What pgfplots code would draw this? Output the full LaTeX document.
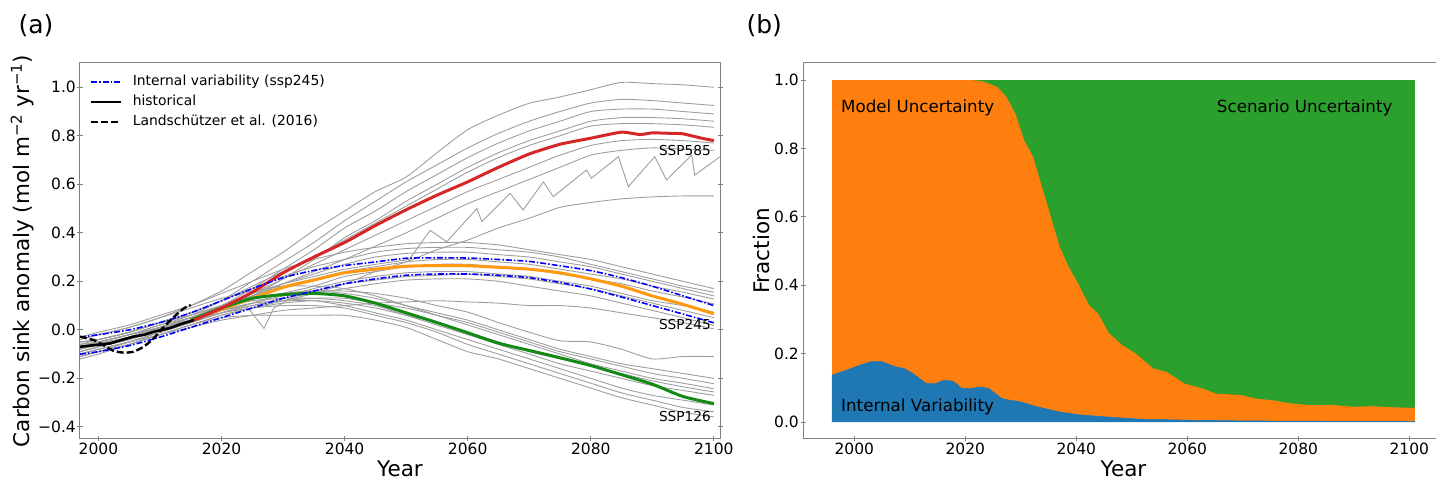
\documentclass[border=0pt]{standalone}
\usepackage{pgfplots}
\pgfplotsset{compat=1.18}
\usepackage{pgfplotstable}
\usepackage{fontspec}
\setmainfont{DejaVu Sans}

\definecolor{spine}{RGB}{128,128,128}
\definecolor{tabblue}{HTML}{1F77B4}
\definecolor{taborange}{HTML}{FF7F0E}
\definecolor{tabgreen}{HTML}{2CA02C}
\definecolor{sspred}{HTML}{D62728}
\definecolor{ssporange}{HTML}{FF9A10}
\definecolor{sspgreen}{HTML}{138A13}

% model runs, ssp585
\pgfplotstableread{
year a b c d e f g h
1997 -0.04 -0.06 -0.08 -0.10 -0.05 -0.09 -0.07 -0.11
2000 -0.02 -0.05 -0.06 -0.08 -0.04 -0.07 -0.06 -0.09
2005 0.01 -0.02 -0.03 -0.05 -0.01 -0.04 -0.03 -0.06
2010 0.05 0.02 0.01 -0.01 0.03 0.00 0.01 -0.02
2015 0.10 0.06 0.05 0.03 0.07 0.04 0.05 0.02
2020 0.16 0.12 0.10 0.08 0.12 0.09 0.09 0.06
2025 0.24 0.20 0.17 0.14 0.18 0.15 0.14 0.09
2030 0.32 0.28 0.25 0.21 0.24 0.21 0.19 0.12
2035 0.41 0.36 0.33 0.29 0.30 0.27 0.24 0.15
2040 0.49 0.45 0.42 0.38 0.37 0.33 0.29 0.19
2045 0.57 0.53 0.49 0.45 0.44 0.39 0.345 0.24
2050 0.63 0.61 0.57 0.53 0.51 0.45 0.40 0.28
2055 0.73 0.68 0.64 0.60 0.58 0.51 0.46 0.33
2060 0.825 0.75 0.71 0.67 0.65 0.57 0.52 0.37
2065 0.885 0.81 0.77 0.73 0.71 0.62 0.57 0.42
2070 0.934 0.86 0.82 0.78 0.76 0.67 0.62 0.46
2075 0.96 0.90 0.86 0.82 0.80 0.72 0.67 0.505
2080 0.99 0.935 0.90 0.86 0.84 0.76 0.72 0.525
2085 1.02 0.95 0.91 0.875 0.85 0.78 0.74 0.54
2090 1.015 0.945 0.91 0.875 0.85 0.785 0.75 0.548
2095 1.01 0.935 0.90 0.87 0.845 0.78 0.745 0.552
2100 1.00 0.925 0.89 0.86 0.835 0.77 0.74 0.552
}\runshigh

% model runs, ssp245
\pgfplotstableread{
year p q r s t u v w
1997 -0.03 -0.06 -0.09 -0.05 -0.11 -0.08 -0.07 -0.10
2000 -0.01 -0.04 -0.07 -0.04 -0.09 -0.06 -0.05 -0.08
2005 0.02 -0.01 -0.03 -0.01 -0.05 -0.03 -0.02 -0.05
2010 0.06 0.03 0.01 0.03 -0.01 0.01 0.01 -0.02
2015 0.10 0.07 0.05 0.06 0.03 0.04 0.04 0.01
2020 0.15 0.12 0.10 0.10 0.07 0.08 0.07 0.04
2025 0.20 0.17 0.15 0.14 0.11 0.11 0.10 0.06
2030 0.25 0.22 0.19 0.18 0.15 0.14 0.13 0.08
2035 0.29 0.26 0.23 0.21 0.18 0.17 0.15 0.09
2040 0.32 0.29 0.27 0.24 0.22 0.20 0.17 0.10
2045 0.34 0.32 0.30 0.26 0.24 0.22 0.19 0.11
2050 0.355 0.335 0.315 0.28 0.26 0.235 0.205 0.115
2055 0.36 0.34 0.32 0.29 0.27 0.24 0.21 0.12
2060 0.36 0.34 0.32 0.29 0.27 0.24 0.21 0.115
2065 0.35 0.33 0.31 0.28 0.26 0.23 0.20 0.11
2070 0.33 0.32 0.30 0.27 0.25 0.22 0.18 0.10
2075 0.31 0.30 0.28 0.25 0.23 0.20 0.16 0.10
2080 0.29 0.27 0.26 0.23 0.21 0.18 0.14 0.09
2085 0.26 0.24 0.23 0.21 0.19 0.15 0.11 0.07
2090 0.23 0.21 0.20 0.18 0.16 0.12 0.08 0.05
2095 0.20 0.18 0.17 0.155 0.135 0.10 0.05 0.03
2100 0.17 0.155 0.14 0.127 0.107 0.073 0.018 0.004
}\runsmid

% model runs, ssp126
\pgfplotstableread{
year k l m n o r s t u
1997 -0.05 -0.08 -0.10 -0.04 -0.12 -0.07 -0.09 -0.06 -0.11
2000 -0.04 -0.06 -0.08 -0.02 -0.10 -0.05 -0.07 -0.05 -0.09
2005 -0.01 -0.03 -0.05 0.01 -0.06 -0.02 -0.04 -0.02 -0.06
2010 0.03 0.01 -0.01 0.05 -0.02 0.02 0.00 0.01 -0.02
2015 0.06 0.05 0.03 0.09 0.02 0.05 0.04 0.04 0.02
2020 0.10 0.09 0.07 0.13 0.06 0.09 0.08 0.07 0.05
2025 0.13 0.13 0.10 0.16 0.09 0.12 0.11 0.09 0.06
2030 0.15 0.15 0.12 0.18 0.11 0.13 0.12 0.10 0.06
2035 0.16 0.16 0.13 0.18 0.12 0.13 0.12 0.10 0.06
2040 0.16 0.15 0.13 0.17 0.11 0.12 0.10 0.09 0.06
2045 0.15 0.13 0.11 0.14 0.09 0.10 0.07 0.06 0.04
2050 0.13 0.10 0.09 0.10 0.06 0.06 0.04 0.03 0.01
2055 0.10 0.07 0.06 0.06 0.03 0.02 0.00 -0.01 -0.04
2060 0.073 0.04 0.03 0.02 -0.01 -0.02 -0.04 -0.06 -0.09
2065 0.03 0.00 -0.01 -0.02 -0.05 -0.06 -0.08 -0.10 -0.12
2070 -0.01 -0.04 -0.05 -0.06 -0.09 -0.10 -0.12 -0.14 -0.16
2075 -0.045 -0.08 -0.09 -0.10 -0.12 -0.14 -0.16 -0.18 -0.20
2080 -0.05 -0.11 -0.12 -0.14 -0.15 -0.17 -0.20 -0.22 -0.24
2085 -0.08 -0.14 -0.15 -0.17 -0.18 -0.20 -0.24 -0.26 -0.28
2090 -0.12 -0.16 -0.18 -0.20 -0.21 -0.23 -0.27 -0.29 -0.31
2095 -0.11 -0.18 -0.20 -0.22 -0.235 -0.25 -0.29 -0.32 -0.34
2100 -0.11 -0.20 -0.222 -0.243 -0.256 -0.27 -0.31 -0.338 -0.359
}\runslow

% scenario means and internal variability envelope
\pgfplotstableread{
year hi lo mid
1997 -0.03 -0.10 nan
2000 -0.02 -0.09 nan
2005 0.00 -0.065 nan
2010 0.03 -0.03 nan
2015 0.07 0.01 0.04
2020 0.12 0.05 0.085
2025 0.17 0.09 0.13
2030 0.215 0.13 0.175
2035 0.245 0.16 0.205
2040 0.265 0.19 0.235
2045 0.28 0.21 0.25
2050 0.295 0.225 0.262
2055 0.297 0.23 0.265
2060 0.296 0.23 0.264
2065 0.29 0.225 0.258
2070 0.282 0.215 0.25
2075 0.264 0.195 0.235
2080 0.244 0.168 0.21
2085 0.215 0.135 0.18
2090 0.18 0.10 0.14
2095 0.14 0.065 0.105
2100 0.10 0.029 0.066
}\ivband

\pgfplotsset{
  panel/.style={
    scale only axis, height=376pt,
    axis line style={spine, line width=1pt},
    tick style={spine, line width=0.8pt},
    major tick length=5pt, tick align=center,
    xtick pos=bottom,
    tick label style={font=\fontsize{15.5}{18}\selectfont, inner sep=1.5pt},
    label style={font=\fontsize{21.5}{25}\selectfont},
    xlabel style={at={(axis description cs:0.5,-0.1)}, anchor=base},
  },
  modelline/.style={draw=black!38, line width=0.9pt, forget plot},
}

\begin{document}
\begin{tikzpicture}
\path[use as bounding box] (0pt,0pt) rectangle (1436pt,479pt);

\begin{axis}[panel,
    at={(80pt,40pt)}, anchor=south west, width=640pt,
    xmin=1997, xmax=2101, ymin=-0.45, ymax=1.1,
    xtick={2000,2020,2040,2060,2080,2100},
    xticklabels={2000,2020,2040,2060,2080,2100},
    ytick={-0.4,-0.2,0,0.2,0.4,0.6,0.8,1.0},
    yticklabels={−0.4,−0.2,0.0,0.2,0.4,0.6,0.8,1.0},
    ytick pos=both,
    xlabel={Year},
    ylabel={Carbon sink anomaly (mol m\textsuperscript{−2} yr\textsuperscript{−1})},
    ylabel style={at={(axis description cs:-0.0792,0.5)}, anchor=base, rotate=0},
    legend cell align=left,
    legend style={draw=none, fill=none, at={(axis description cs:0.0156,0.9686)},
      anchor=north west, inner sep=0pt, row sep=6pt, column sep=10pt,
      font=\fontsize{13.9}{16}\selectfont,
      nodes={inner sep=0pt, text height=10.5pt, text depth=3.5pt}},
    legend image code/.code={\draw[#1] (0pt,0pt) -- (30pt,0pt);},
  ]
  \addlegendimage{blue, line width=1.6pt, dash pattern=on 6pt off 2pt on 1.5pt off 2pt}
  \addlegendentry{Internal variability (ssp245)}
  \addlegendimage{black, line width=2.6pt}
  \addlegendentry{historical}
  \addlegendimage{black, line width=2.4pt, dash pattern=on 7pt off 3pt}
  \addlegendentry{Landschützer et al. (2016)}

  \pgfplotsinvokeforeach{a,b,c,d,e,f,g,h}{
    \addplot[modelline, smooth, tension=0.4] table[x=year, y=#1] {\runshigh};}
  \pgfplotsinvokeforeach{p,q,r,s,t,u,v,w}{
    \addplot[modelline, smooth, tension=0.4] table[x=year, y=#1] {\runsmid};}
  \pgfplotsinvokeforeach{k,l,m,n,o,r,s,t,u}{
    \addplot[modelline, smooth, tension=0.4] table[x=year, y=#1] {\runslow};}
  % run with strong oscillations
  \addplot[modelline] coordinates {
    (1997,-0.08) (2000,-0.06) (2005,-0.03) (2010,0.01) (2015,0.05) (2020,0.09)
    (2025,0.14) (2030,0.19) (2035,0.22) (2040,0.25) (2045,0.27) (2050.5,0.29)
    (2053.9,0.41) (2056.6,0.363) (2061.5,0.50) (2062.3,0.446) (2066.9,0.563)
    (2069,0.494) (2072.3,0.61) (2073.9,0.549) (2079.3,0.659) (2080.1,0.625)
    (2084.5,0.714) (2086.1,0.59) (2090.4,0.714) (2092.3,0.618) (2096.4,0.72)
    (2096.9,0.638) (2101,0.714)};
  % run with a dip
  \addplot[modelline] coordinates {
    (1997,-0.07) (2005,-0.03) (2015,0.04) (2020,0.08) (2024,0.10) (2026.9,0.006)
    (2028.5,0.09) (2032,0.14) (2040,0.19) (2050,0.22) (2060,0.23) (2070,0.21)
    (2080,0.17) (2090,0.11) (2100,0.05)};

  % scenario means
  \addplot[ssporange, line width=3pt, smooth, tension=0.4, forget plot] table[x=year, y=mid] {\ivband};
  \addplot[sspgreen, line width=3pt, smooth, tension=0.4, forget plot] coordinates {
    (2015,0.04) (2020,0.09) (2025,0.13) (2030,0.145) (2035,0.15) (2040,0.14)
    (2045,0.11) (2050,0.07) (2055,0.03) (2060,-0.012) (2065,-0.055) (2070,-0.085)
    (2075,-0.115) (2080,-0.147) (2085,-0.185) (2090,-0.224) (2095,-0.275) (2100,-0.304)};
  \addplot[sspred, line width=3pt, smooth, tension=0.3, forget plot] coordinates {
    (2015.5,0.04) (2020,0.09) (2025,0.155) (2030,0.235) (2035,0.30) (2040,0.36)
    (2045,0.43) (2050,0.495) (2055,0.555) (2060,0.61) (2065,0.67) (2070,0.725)
    (2075,0.765) (2080,0.79) (2085,0.815) (2088,0.805) (2090,0.812) (2093,0.81)
    (2095,0.808) (2098,0.79) (2100,0.78)};

  % internal variability envelope
  \addplot[blue, line width=1.6pt, smooth, tension=0.4, dash pattern=on 6pt off 2pt on 1.5pt off 2pt, forget plot]
    table[x=year, y=hi] {\ivband};
  \addplot[blue, line width=1.6pt, smooth, tension=0.4, dash pattern=on 6pt off 2pt on 1.5pt off 2pt, forget plot]
    table[x=year, y=lo] {\ivband};

  % historical and observations
  \addplot[black, line width=2.6pt, forget plot] coordinates {
    (1997,-0.07) (1999,-0.064) (2001.9,-0.056) (2004,-0.04) (2005.7,-0.028)
    (2007.5,-0.02) (2009,-0.008) (2011.7,0.008) (2013.5,0.025) (2015.5,0.04)};
  \addplot[black, line width=2.4pt, smooth, tension=0.4, dash pattern=on 7pt off 3pt, forget plot] coordinates {
    (1997,-0.028) (1999.2,-0.042) (2000.8,-0.063) (2002.4,-0.086) (2004.1,-0.094)
    (2005.7,-0.09) (2007.3,-0.07) (2009,-0.035) (2010.6,0.012) (2012.3,0.054)
    (2013.9,0.089) (2015,0.102)};

  \node[font=\fontsize{13.7}{16}\selectfont] at (axis cs:2095.3,0.741) {SSP585};
  \node[font=\fontsize{13.7}{16}\selectfont] at (axis cs:2095.3,0.023) {SSP245};
  \node[font=\fontsize{13.7}{16}\selectfont] at (axis cs:2095.3,-0.357) {SSP126};
\end{axis}

\begin{axis}[panel,
    at={(803pt,40pt)}, anchor=south west, width=641pt,
    xmin=1990.75, xmax=2106.25, ymin=-0.05, ymax=1.05,
    xtick={2000,2020,2040,2060,2080,2100},
    xticklabels={2000,2020,2040,2060,2080,2100},
    ytick={0,0.2,0.4,0.6,0.8,1.0},
    yticklabels={0.0,0.2,0.4,0.6,0.8,1.0},
    ytick pos=left,
    xlabel={Year},
    ylabel={Fraction},
    ylabel style={at={(axis description cs:-0.053,0.5)}, anchor=base, rotate=0},
  ]
  % scenario uncertainty (fills the remainder up to 1)
  \addplot[fill=tabgreen, draw=none] coordinates {
    (1996,0) (1996,1) (2101,1) (2101,0)} -- cycle;
  % model uncertainty, stacked on internal variability
  \addplot[fill=taborange, draw=none] coordinates {
    (1996,0) (1996,1) (2021,1) (2023,0.997) (2024.2,0.99) (2025.8,0.979)
    (2027.4,0.951) (2029,0.902) (2030.6,0.824) (2032.2,0.776) (2033.8,0.688)
    (2035.4,0.6) (2037,0.512) (2038.6,0.454) (2040.3,0.405) (2042.3,0.341)
    (2043.9,0.317) (2045.9,0.259) (2048.3,0.224) (2050.7,0.2) (2053.9,0.156)
    (2056.3,0.146) (2059.5,0.112) (2062.7,0.098) (2065.1,0.083) (2069.9,0.078)
    (2072.3,0.068) (2075.5,0.063) (2078.7,0.054) (2082,0.049) (2086.8,0.049)
    (2090,0.044) (2093.2,0.046) (2096.4,0.043) (2101,0.041) (2101,0)} -- cycle;
  % internal variability
  \addplot[fill=tabblue, draw=tabblue, line width=0.6pt] coordinates {
    (1996,0) (1996,0.137) (1998.6,0.151) (2001,0.166) (2003,0.176) (2005,0.176)
    (2007.4,0.161) (2009,0.156) (2010.6,0.141) (2013,0.112) (2014.6,0.112)
    (2016.2,0.122) (2017.8,0.119) (2019.4,0.098) (2021,0.098) (2022.6,0.102)
    (2024.2,0.098) (2026.6,0.068) (2028.2,0.063) (2029.8,0.059) (2033,0.044)
    (2037,0.029) (2040.3,0.021) (2045,0.015) (2051.5,0.008) (2060,0.005)
    (2070,0.003) (2080,0.002) (2101,0.001) (2101,0)} -- cycle;

  \node[anchor=base west, font=\fontsize{16.7}{20}\selectfont] at (axis cs:1997,0.905) {Model Uncertainty};
  \node[anchor=base east, font=\fontsize{16.7}{20}\selectfont] at (axis cs:2097.6,0.905) {Scenario Uncertainty};
  \node[anchor=base west, font=\fontsize{16.7}{20}\selectfont] at (axis cs:1997,0.031) {Internal Variability};
\end{axis}

\node[anchor=base west, font=\fontsize{25}{30}\selectfont] at (15pt,445.5pt) {(a)};
\node[anchor=base west, font=\fontsize{25}{30}\selectfont] at (743pt,445.5pt) {(b)};
\end{tikzpicture}
\end{document}
